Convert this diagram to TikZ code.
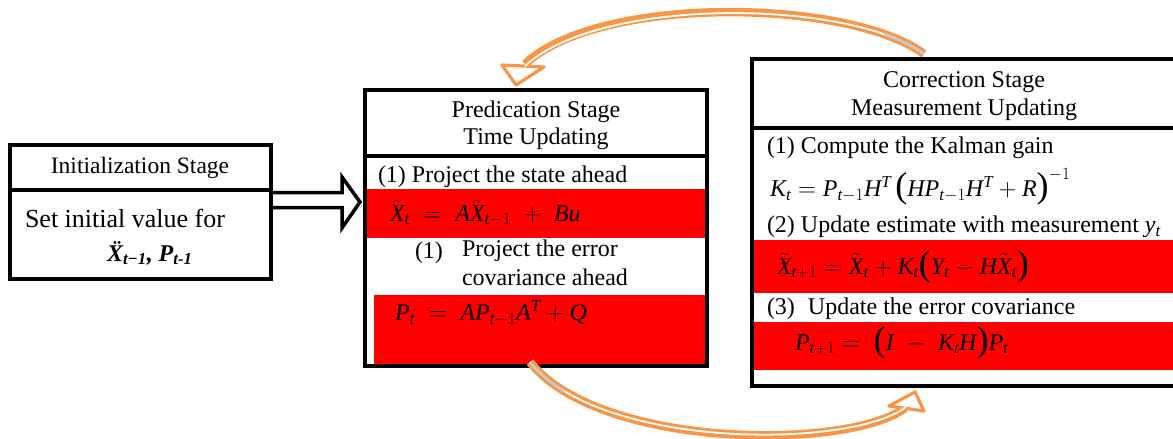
\documentclass[tikz,border=0pt]{standalone}
\usepackage{fontspec}
\setmainfont{Liberation Serif}
\usetikzlibrary{calc,backgrounds}
\definecolor{kred}{RGB}{255,0,0}
\definecolor{korange}{RGB}{247,150,70}
\definecolor{kgray}{RGB}{200,200,200}
\newcommand\iv[1]{\mathit{#1}}
\newcommand\bodyfont{\fontsize{24}{28}\selectfont}
% tall upright parentheses for the matrix expressions
\newcommand\lpar{\mathopen{\raisebox{-1.5pt}{\fontsize{36}{36}\selectfont(}}}
\newcommand\rpar{\mathclose{\raisebox{-1.5pt}{\fontsize{36}{36}\selectfont)}}}
\begin{document}
\begin{tikzpicture}[x=1pt,y=-1pt,
  every node/.style={inner sep=0pt, outer sep=0pt, font=\bodyfont},
  stagebox/.style={draw=black, line width=4pt, rectangle, anchor=north west},
  rule/.style={draw=black, line width=4pt},
  band/.style={fill=kred, draw=none},
  hollowarrow/.style={draw=black, fill=white, line width=3.5pt, line join=miter},
  loopouter/.style={draw=korange, line width=8.5pt},
  loopinner/.style={draw=white, line width=1.8pt},
  looptail/.style={draw=kgray, line width=3pt, dash pattern=on 45pt off 2000pt},
  loophead/.style={draw=korange, fill=white, line width=3.2pt, line join=round},
  eq/.style={anchor=west, font=\bodyfont}]
\useasboundingbox (0,0) rectangle (1173,439);

% ---- the three stage boxes ----
\node[stagebox, minimum width=261pt, minimum height=134pt] (init) at (10,145) {};
\node[stagebox, line width=3.5pt, minimum width=342pt, minimum height=276pt] (pred) at (365,90) {};
\node[stagebox, minimum width=426pt, minimum height=327pt] (corr) at (752,59) {};

% header separators
\draw[rule] (10,190) -- (271,190);
\draw[rule, line width=3.5pt] (365,156) -- (707,156);
\draw[rule] (752,128) -- (1178,128);

% highlighted equation bands
\begin{pgfonlayer}{background}
  \fill[band] (365,189) rectangle (707,238);
  \fill[band] (374,295) rectangle (707,366);
  \fill[band] (753,240) rectangle (1178,293);
  \fill[band] (753,322) rectangle (1178,370);
\end{pgfonlayer}

% ---- initialization stage ----
\node[font=\fontsize{23.5}{27}\selectfont] (inittitle) at (140,168) {Initialization Stage};
\node[anchor=west, font=\fontsize{26}{30}\selectfont] (initset) at (25,218) {Set initial value for};
\node[anchor=west, font=\fontsize{24}{28}\selectfont\bfseries\itshape] (initvals) at (107,253)
  {\"X\textsubscript{t−1}, P\textsubscript{t-1}};

% ---- prediction stage ----
\node[align=center, font=\fontsize{24}{27}\selectfont] (predtitle) at (536,125)
  {Predication Stage\\Time Updating};
\node[anchor=west] (pstep1) at (378,177) {(1) Project the state ahead};
\node[eq] (peq1) at (390,213)
  {$\tilde{\iv{X}}_{\iv{t}} \;=\; \iv{A}\tilde{\iv{X}}_{\iv{t}-1} \;+\; \iv{Bu}$};
\node[anchor=west] (pstep2num) at (415,253) {(1)};
\node[anchor=north west, align=left, font=\fontsize{24}{29}\selectfont] (pstep2) at (462,240)
  {Project the error\\covariance ahead};
\node[eq] (peq2) at (395,313)
  {$\iv{P}_{\iv{t}} \;=\; \iv{A}\iv{P}_{\iv{t}-1}\iv{A}^{\iv{T}} + \iv{Q}$};

% ---- correction stage ----
\node[align=center, font=\fontsize{24}{28}\selectfont] (corrtitle) at (964,96)
  {Correction Stage\\Measurement Updating};
\node[anchor=west] (cstep1) at (767,148) {(1) Compute the Kalman gain};
\node[eq] (ceq1) at (770,187)
  {$\iv{K}_{\iv{t}} = \iv{P}_{\iv{t}-1}\iv{H}^{\iv{T}}\,\lpar\iv{H}\iv{P}_{\iv{t}-1}\iv{H}^{\iv{T}} + \iv{R}\rpar^{-1}$};
\node[anchor=west] (cstep2) at (767,227)
  {(2) Update estimate with measurement \textit{y}\textsubscript{\textit{t}}};
\node[eq] (ceq2) at (777,267)
  {$\tilde{\iv{X}}_{\iv{t}+1} = \tilde{\iv{X}}_{\iv{t}} + \iv{K}_{\iv{t}}\lpar\iv{Y}_{\iv{t}} - \iv{H}\tilde{\iv{X}}_{\iv{t}}\rpar$};
\node[anchor=west] (cstep3) at (767,309) {(3)\hspace{13pt}Update the error covariance};
\node[eq] (ceq3) at (795,343)
  {$\iv{P}_{\iv{t}+1} = \;\lpar\iv{I} \;-\; \iv{K}_{\iv{t}}\iv{H}\rpar\iv{P}_{\iv{t}}$};

% ---- hollow arrow: initialization -> prediction ----
\coordinate (ia) at ($(init.east)+(2,-12)$);
\coordinate (ib) at ($(pred.west)+(-5,-26)$);
\draw[hollowarrow]
  ($(ia)+(0,-7.5)$) -- ($(ib)+(-18,-9.5)$) -- ($(ib)+(-18,-25)$) -- (ib)
  -- ($(ib)+(-18,26)$) -- ($(ib)+(-18,5.5)$) -- ($(ia)+(0,7.5)$);

% ---- feedback loop: correction -> prediction (over the top) ----
\coordinate (ct) at ($(corr.north west)+(172,-5)$);
\coordinate (ph) at ($(pred.north west)+(160,-26)$);
\begin{pgfonlayer}{background}
  \draw[loopouter] (ct) .. controls +(-74,-55) and +(75,-70) .. (ph);
  \draw[loophead] ($(ph)+(-23,1)$) -- ($(ph)+(-9,21)$) -- ($(ph)+(19,3)$) -- cycle;
  \draw[loopinner] (ct) .. controls +(-74,-55) and +(75,-70) .. ($(ph)+(0,2)$);
  \draw[looptail] (ct) .. controls +(-74,-55) and +(75,-70) .. (ph);
\end{pgfonlayer}

% ---- feedback loop: prediction -> correction (underneath) ----
\coordinate (pt) at ($(pred.south west)+(165,-4)$);
\coordinate (ch) at ($(corr.south west)+(153,22)$);
\draw[loopouter] (pt) .. controls +(70,88) and +(-55,42) .. (ch);
\draw[loophead] ($(ch)+(-16,-2)$) -- ($(ch)+(10,-16)$) -- ($(ch)+(19,3)$) -- cycle;
\draw[loopinner] (pt) .. controls +(70,88) and +(-55,42) .. ($(ch)+(1,-1)$);
\draw[looptail] (pt) .. controls +(70,88) and +(-55,42) .. (ch);
\end{tikzpicture}
\end{document}
